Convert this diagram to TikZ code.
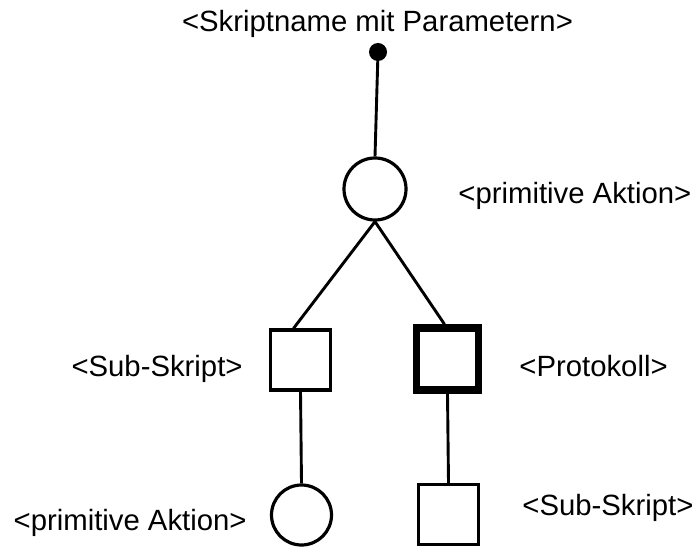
\documentclass[tikz,border=0pt]{standalone}
\usepackage{fontspec}
\setmainfont{Liberation Sans}
\usetikzlibrary{positioning}
\tikzset{
  lbl/.style={inner sep=0pt,font=\fontsize{29.3}{34}\selectfont},
  aktion/.style={circle,draw,line width=3.2pt,minimum size=62pt,inner sep=0pt},
  skript/.style={rectangle,draw,line width=3.2pt,minimum size=60pt,inner sep=0pt},
  protokoll/.style={skript,line width=7.5pt,minimum size=62pt}
}

\begin{document}
\begin{tikzpicture}[x=1pt,y=-1pt,line width=2.9pt]
\useasboundingbox (0,0) rectangle (693,548);
% Kopf: Skriptname
\node[lbl,anchor=base] (name) at (377.5,32) {<Skriptname mit Parametern>};
\fill (378,52) coordinate (start) circle (9pt);
% Knoten
\node[aktion] (akt1) at (375,189) {};
\node[skript] (sub1) at (300.5,360) {};
\node[protokoll] (prot) at (447.5,359) {};
\node[aktion,minimum size=60pt] (akt2) at (301.5,515) {};
\node[skript] (sub2) at (448.5,514.5) {};
% Verbindungen
\draw (start) -- (akt1.north);
\draw (akt1.south) -- ([xshift=-7pt]sub1.north);
\draw (akt1.south) -- ([xshift=-3pt]prot.north);
\draw (sub1.south) -- (akt2.north);
\draw (prot.south) -- (sub2.north);
% Beschriftungen
\node[lbl,anchor=base west] (lakt1) at (457,204) {<primitive Aktion>};
\node[lbl,anchor=base east] (lsub1) at (244,376) {<Sub-Skript>};
\node[lbl,anchor=base west] (lprot) at (518,376) {<Protokoll>};
\node[lbl,anchor=base east] (lakt2) at (248,530) {<primitive Aktion>};
\node[lbl,anchor=base west] (lsub2) at (521,515) {<Sub-Skript>};
\end{tikzpicture}
\end{document}
